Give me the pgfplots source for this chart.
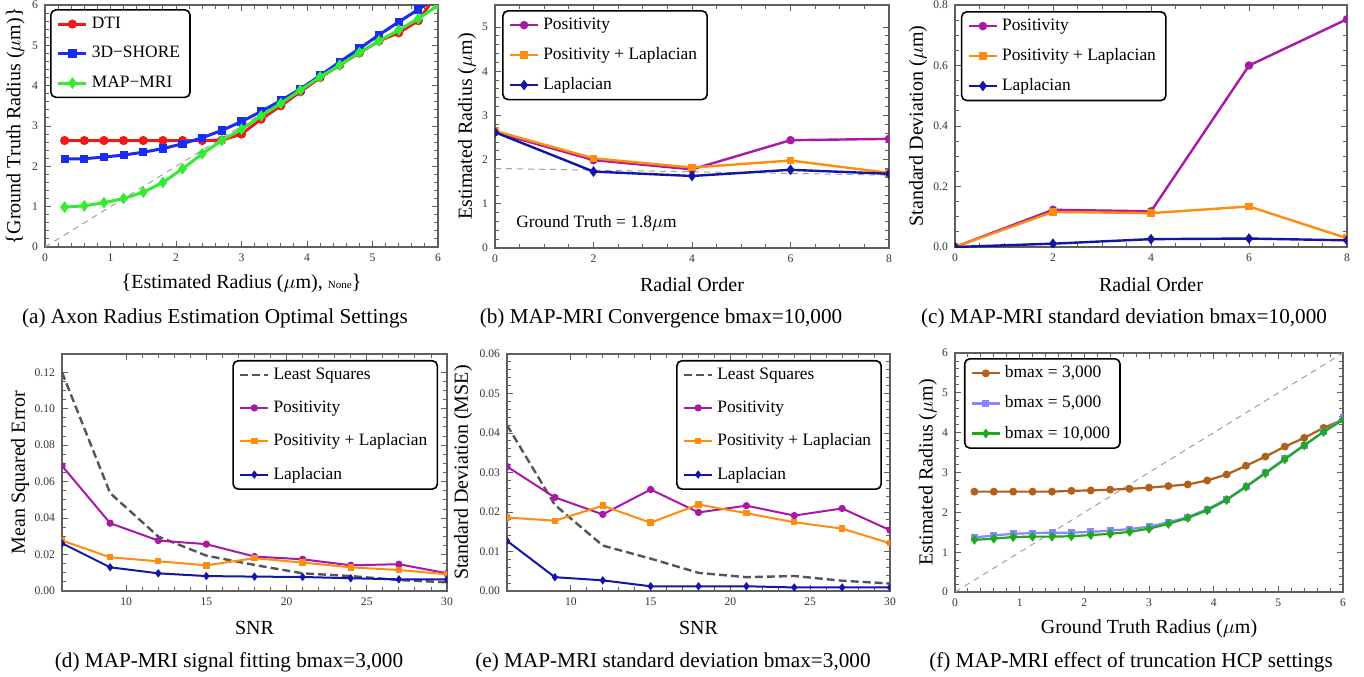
\documentclass[border=0pt]{standalone}
\usepackage{fontspec}
\setmainfont{Liberation Serif}
\usepackage{pgfplots}
\pgfplotsset{compat=1.18}

\definecolor{dtired}{RGB}{240,25,25}
\definecolor{shoreblue}{RGB}{25,45,240}
\definecolor{mapgreen}{RGB}{50,235,50}
\definecolor{pospurple}{RGB}{168,25,168}
\definecolor{posorange}{RGB}{255,140,15}
\definecolor{lapblue}{RGB}{20,20,165}
\definecolor{lsgray}{RGB}{85,85,85}
\definecolor{bbrown}{RGB}{178,95,25}
\definecolor{blight}{RGB}{135,135,255}
\definecolor{bgreen}{RGB}{30,170,30}
\definecolor{framegray}{RGB}{95,95,95}

\newcommand{\lb}{{\fontsize{10.5}{10.5}\selectfont\{}}
\newcommand{\rb}{{\fontsize{10.5}{10.5}\selectfont\}}}

\pgfplotsset{
  mframe/.style={
    scale only axis, clip marker paths=true,
    axis line style={framegray, line width=0.6pt},
    tick align=inside, tick style={framegray, line width=0.45pt},
    major tick length=3pt, minor tick length=1.8pt,
    /pgf/number format/assume math mode=true,
    tick label style={font=\fontsize{5.8}{6}\selectfont, text=black!80},
    label style={font=\fontsize{9}{10}\selectfont},
    every axis y label/.style={rotate=90, anchor=center},
    every axis x label/.style={anchor=center},
    legend cell align=left,
    legend style={font=\fontsize{8.7}{9}\selectfont, draw=black, line width=0.8pt,
      rounded corners=2.5pt, fill=white, inner xsep=3pt, inner ysep=1.5pt, row sep=3.5pt},
    legend image code/.code={\draw[mark repeat=2,mark phase=2] plot coordinates {(0pt,0pt) (7pt,0pt) (14pt,0pt)};},
  },
  diag/.style={gray!75, line width=0.5pt, dash pattern=on 3pt off 2.5pt, forget plot},
  sC/.style={line width=1.2pt, mark=*, mark size=1.5pt},
  sS/.style={line width=1.2pt, mark=square*, mark size=1.3pt},
  sD/.style={line width=1.2pt, mark=diamond*, mark size=1.7pt},
}

\begin{document}
\begin{tikzpicture}
\path[use as bounding box] (0,0) rectangle (682pt,-338pt);

% (a)
\begin{axis}[mframe, at={(22.5pt,-2.5pt)}, anchor=north west, width=196.5pt, height=121pt,
  xmin=0, xmax=6, ymin=0, ymax=6, xtick={0,...,6}, ytick={0,...,6},
  minor x tick num=4, minor y tick num=4,
  xlabel={\lb Estimated Radius ($\mu$m), {\fontsize{5.5}{6}\selectfont None}\rb},
  ylabel={\lb Ground Truth Radius ($\mu$m)\rb},
  xlabel style={at={(axis description cs:0.5,-0.149)}},
  ylabel style={at={(axis description cs:-0.076,0.5)}},
  legend style={at={(axis description cs:0.013,0.983)}, anchor=north west},
  sC/.append style={line width=1.5pt}, sS/.append style={line width=1.5pt}, sD/.append style={line width=1.5pt}]
\addplot[diag] coordinates {(0,0) (6,6)};
\addplot[sC, dtired] coordinates {(0.3,2.64) (0.6,2.64) (0.9,2.64) (1.2,2.64) (1.5,2.64) (1.8,2.64) (2.1,2.64) (2.4,2.64) (2.7,2.65) (3.0,2.80) (3.3,3.17) (3.6,3.50) (3.9,3.85) (4.2,4.20) (4.5,4.51) (4.8,4.81) (5.1,5.11) (5.4,5.31) (5.7,5.61) (6.0,6.3)};
\addplot[sS, shoreblue] coordinates {(0.3,2.18) (0.6,2.19) (0.9,2.23) (1.2,2.28) (1.5,2.35) (1.8,2.44) (2.1,2.56) (2.4,2.71) (2.7,2.89) (3.0,3.11) (3.3,3.36) (3.6,3.63) (3.9,3.92) (4.2,4.25) (4.5,4.59) (4.8,4.92) (5.1,5.26) (5.4,5.58) (5.7,5.89) (6.0,6.2)};
\addplot[sD, mapgreen] coordinates {(0.3,0.99) (0.6,1.02) (0.9,1.10) (1.2,1.20) (1.5,1.36) (1.8,1.60) (2.1,1.94) (2.4,2.31) (2.7,2.64) (3.0,2.92) (3.3,3.25) (3.6,3.56) (3.9,3.89) (4.2,4.22) (4.5,4.51) (4.8,4.82) (5.1,5.11) (5.4,5.38) (5.7,5.66) (6.0,5.99)};
\legend{DTI, 3D−SHORE, MAP−MRI}
\end{axis}

% (b)
\begin{axis}[mframe, at={(247.5pt,-2.5pt)}, anchor=north west, width=197pt, height=121.5pt,
  xmin=0, xmax=8, ymin=0, ymax=5.5, xtick={0,2,...,8}, ytick={0,...,5},
  minor x tick num=3, minor y tick num=4,
  xlabel={Radial Order}, ylabel={Estimated Radius ($\mu$m)},
  xlabel style={at={(axis description cs:0.5,-0.152)}},
  ylabel style={at={(axis description cs:-0.071,0.5)}},
  legend style={at={(axis description cs:0.018,0.979)}, anchor=north west}]
\addplot[diag] coordinates {(0,1.80) (8,1.65)};
\addplot[sC, pospurple] coordinates {(0,2.62) (2,1.99) (4,1.78) (6,2.44) (8,2.47)};
\addplot[sS, posorange] coordinates {(0,2.65) (2,2.03) (4,1.82) (6,1.98) (8,1.70)};
\addplot[sD, lapblue] coordinates {(0,2.62) (2,1.73) (4,1.63) (6,1.77) (8,1.68)};
\legend{Positivity, Positivity + Laplacian, Laplacian}
\node[anchor=west, font=\fontsize{8.7}{9}\selectfont] at (axis description cs:0.036,0.103) {Ground Truth = 1.8$\mu$m};
\end{axis}

% (c)
\begin{axis}[mframe, at={(477.5pt,-2.5pt)}, anchor=north west, width=196pt, height=121pt,
  xmin=0, xmax=8, ymin=0, ymax=0.8, xtick={0,2,...,8}, ytick={0,0.2,0.4,0.6,0.8},
  minor x tick num=3, minor y tick num=3,
  yticklabel style={/pgf/number format/.cd, fixed, fixed zerofill, precision=1},
  xlabel={Radial Order}, ylabel={Standard Deviation ($\mu$m)},
  xlabel style={at={(axis description cs:0.5,-0.157)}},
  ylabel style={at={(axis description cs:-0.094,0.5)}},
  legend style={at={(axis description cs:0.015,0.975)}, anchor=north west}]
\addplot[sC, pospurple] coordinates {(0,0.0) (2,0.123) (4,0.118) (6,0.600) (8,0.753)};
\addplot[sS, posorange] coordinates {(0,0.0) (2,0.116) (4,0.112) (6,0.134) (8,0.029)};
\addplot[sD, lapblue] coordinates {(0,0.0) (2,0.011) (4,0.026) (6,0.028) (8,0.022)};
\legend{Positivity, Positivity + Laplacian, Laplacian}
\end{axis}

% (d)
\begin{axis}[mframe, at={(31pt,-177pt)}, anchor=north west, width=192.5pt, height=118.5pt,
  xmin=6, xmax=30, ymin=0, ymax=0.13, xtick={10,15,...,30}, ytick={0,0.02,0.04,0.06,0.08,0.10,0.12},
  minor x tick num=4, minor y tick num=3, scaled y ticks=false,
  yticklabel style={/pgf/number format/.cd, fixed, fixed zerofill, precision=2},
  xlabel={SNR}, ylabel={Mean Squared Error},
  xlabel style={at={(axis description cs:0.5,-0.156)}},
  ylabel style={at={(axis description cs:-0.109,0.5)}},
  legend style={at={(axis description cs:0.977,0.975)}, anchor=north east, row sep=5.2pt},
  sC/.append style={line width=1pt, mark size=1.3pt}, sS/.append style={line width=1pt, mark size=1.1pt}, sD/.append style={line width=1pt, mark size=1.3pt}]
\addplot[lsgray, line width=1.2pt, dash pattern=on 4pt off 2pt] coordinates {(6,0.120) (9,0.0537) (12,0.0299) (15,0.0194) (18,0.0143) (21,0.0097) (24,0.0082) (27,0.0060) (30,0.0048)};
\addplot[sC, pospurple] coordinates {(6,0.0687) (9,0.0372) (12,0.0277) (15,0.0257) (18,0.0189) (21,0.0174) (24,0.0141) (27,0.0147) (30,0.0097)};
\addplot[sS, posorange] coordinates {(6,0.0277) (9,0.0185) (12,0.0163) (15,0.0141) (18,0.0180) (21,0.0156) (24,0.0130) (27,0.0115) (30,0.0092)};
\addplot[sD, lapblue] coordinates {(6,0.0262) (9,0.0130) (12,0.0097) (15,0.0082) (18,0.0079) (21,0.0077) (24,0.0070) (27,0.0064) (30,0.0064)};
\legend{Least Squares, Positivity, Positivity + Laplacian, Laplacian}
\end{axis}

% (e)
\begin{axis}[mframe, at={(253.5pt,-177pt)}, anchor=north west, width=191.5pt, height=118.5pt,
  xmin=6, xmax=30, ymin=0, ymax=0.06, xtick={10,15,...,30}, ytick={0,0.01,0.02,0.03,0.04,0.05,0.06},
  minor x tick num=4, minor y tick num=4, scaled y ticks=false,
  yticklabel style={/pgf/number format/.cd, fixed, fixed zerofill, precision=2},
  xlabel={SNR}, ylabel={Standard Deviation (MSE)},
  xlabel style={at={(axis description cs:0.5,-0.156)}},
  ylabel style={at={(axis description cs:-0.115,0.5)}},
  legend style={at={(axis description cs:0.979,0.975)}, anchor=north east, row sep=5.2pt},
  sC/.append style={line width=1pt, mark size=1.3pt}, sS/.append style={line width=1pt, mark size=1.1pt}, sD/.append style={line width=1pt, mark size=1.3pt}]
\addplot[lsgray, line width=1.2pt, dash pattern=on 4pt off 2pt] coordinates {(6,0.0420) (9,0.0218) (12,0.0115) (15,0.0082) (18,0.0046) (21,0.0035) (24,0.0038) (27,0.0026) (30,0.0019)};
\addplot[sC, pospurple] coordinates {(6,0.0315) (9,0.0237) (12,0.0194) (15,0.0257) (18,0.0199) (21,0.0216) (24,0.0191) (27,0.0209) (30,0.0154)};
\addplot[sS, posorange] coordinates {(6,0.0186) (9,0.0178) (12,0.0216) (15,0.0173) (18,0.0219) (21,0.0197) (24,0.0174) (27,0.0158) (30,0.0121)};
\addplot[sD, lapblue] coordinates {(6,0.0127) (9,0.0035) (12,0.0027) (15,0.0012) (18,0.0012) (21,0.0012) (24,0.0009) (27,0.0009) (30,0.0009)};
\legend{Least Squares, Positivity, Positivity + Laplacian, Laplacian}
\end{axis}

% (f)
\begin{axis}[mframe, at={(477.5pt,-176.5pt)}, anchor=north west, width=194pt, height=119.5pt,
  xmin=0, xmax=6, ymin=0, ymax=6, xtick={0,...,6}, ytick={0,...,6},
  minor x tick num=4, minor y tick num=4,
  xlabel={Ground Truth Radius ($\mu$m)}, ylabel={Estimated Radius ($\mu$m)},
  xlabel style={at={(axis description cs:0.5,-0.155)}},
  ylabel style={at={(axis description cs:-0.070,0.5)}},
  legend style={at={(axis description cs:0.023,0.979)}, anchor=north west},
  sC/.append style={line width=1.1pt, mark size=1.4pt}, sS/.append style={line width=1.1pt, mark size=1.2pt}, sD/.append style={line width=1.1pt, mark size=1.6pt}]
\addplot[diag] coordinates {(0,0) (6,6)};
\addplot[sC, bbrown] coordinates {(0.3,2.52) (0.6,2.52) (0.9,2.52) (1.2,2.52) (1.5,2.52) (1.8,2.54) (2.1,2.55) (2.4,2.57) (2.7,2.59) (3.0,2.62) (3.3,2.66) (3.6,2.70) (3.9,2.80) (4.2,2.95) (4.5,3.17) (4.8,3.40) (5.1,3.65) (5.4,3.87) (5.7,4.12) (6.0,4.33)};
\addplot[sS, blight] coordinates {(0.3,1.37) (0.6,1.42) (0.9,1.46) (1.2,1.48) (1.5,1.49) (1.8,1.49) (2.1,1.51) (2.4,1.54) (2.7,1.58) (3.0,1.64) (3.3,1.75) (3.6,1.88) (3.9,2.08) (4.2,2.33) (4.5,2.65) (4.8,3.00) (5.1,3.35) (5.4,3.69) (5.7,4.02) (6.0,4.37)};
\addplot[sD, bgreen] coordinates {(0.3,1.31) (0.6,1.34) (0.9,1.38) (1.2,1.39) (1.5,1.39) (1.8,1.40) (2.1,1.43) (2.4,1.46) (2.7,1.51) (3.0,1.59) (3.3,1.71) (3.6,1.86) (3.9,2.05) (4.2,2.31) (4.5,2.64) (4.8,2.98) (5.1,3.33) (5.4,3.68) (5.7,4.02) (6.0,4.32)};
\legend{bmax = 3{,}000, bmax = 5{,}000, bmax = 10{,}000}
\end{axis}

\begin{scope}[every node/.style={font=\fontsize{10.6}{12}\selectfont}]
\node at (107.5pt,-159pt) {(a) Axon Radius Estimation Optimal Settings};
\node at (330.5pt,-159pt) {(b) MAP-MRI Convergence bmax=10,000};
\node at (562pt,-159pt) {(c) MAP-MRI standard deviation bmax=10,000};
\node at (114.5pt,-331pt) {(d) MAP-MRI signal fitting bmax=3,000};
\node at (336.5pt,-331pt) {(e) MAP-MRI standard deviation bmax=3,000};
\node at (565.5pt,-331pt) {(f) MAP-MRI effect of truncation HCP settings};
\end{scope}
\end{tikzpicture}
\end{document}
